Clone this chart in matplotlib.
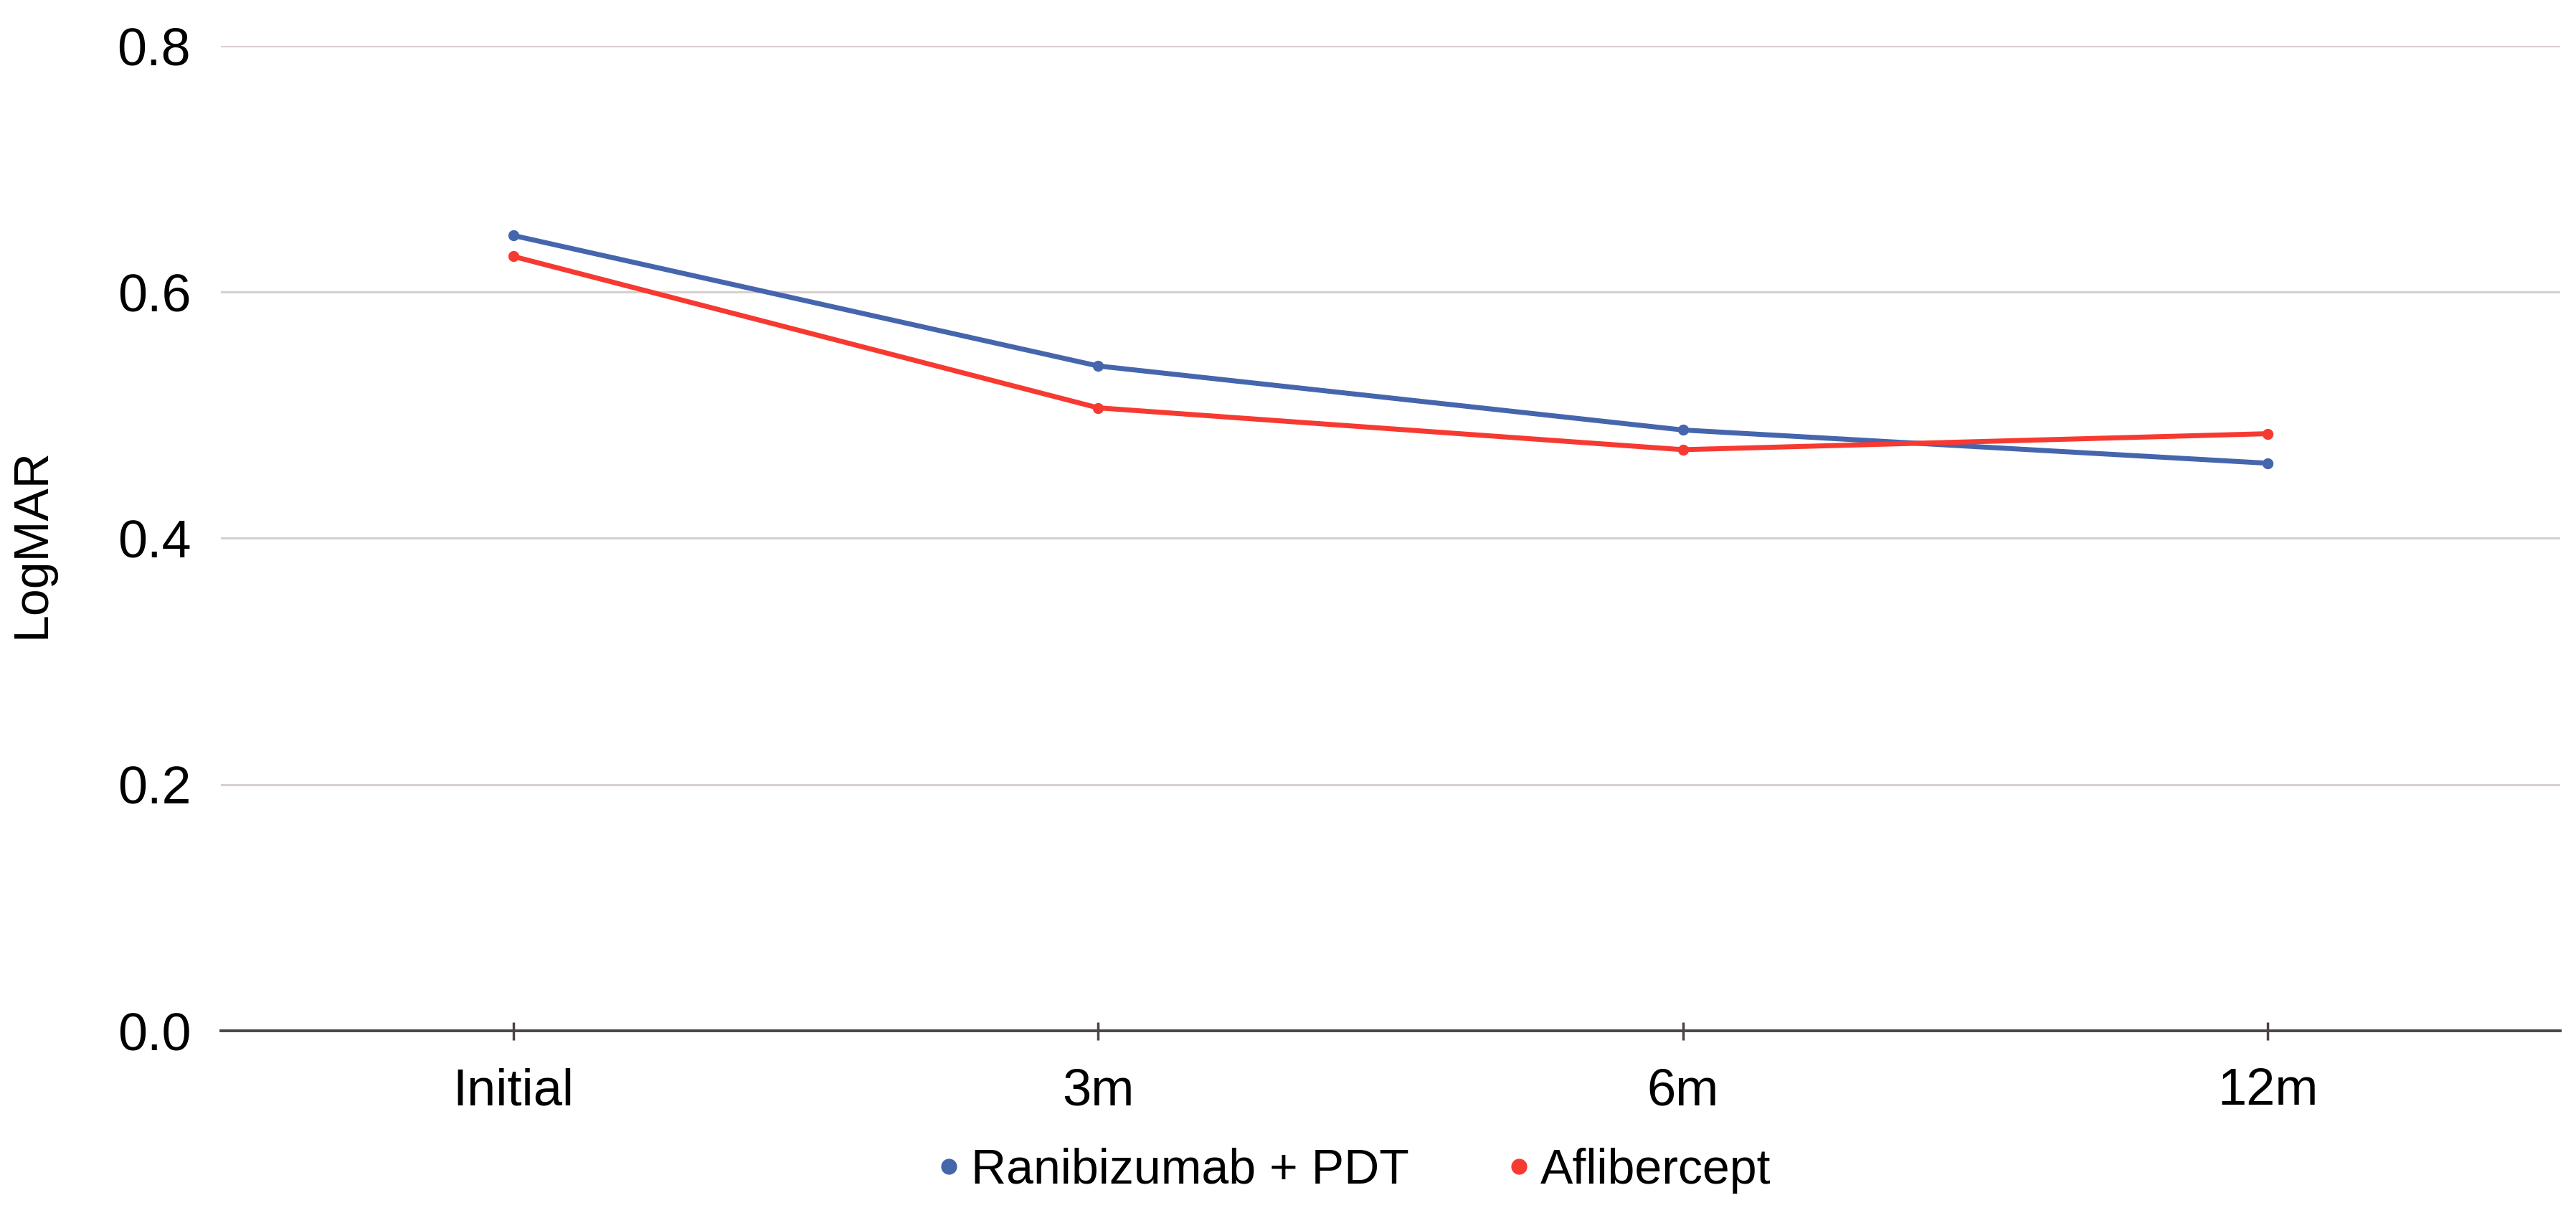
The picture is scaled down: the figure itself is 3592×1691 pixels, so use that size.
import matplotlib.pyplot as plt
from matplotlib.lines import Line2D

# data
timepoints = ['Initial', '3m', '6m', '12m']
ranibizumab_pdt = [0.646, 0.540, 0.488, 0.461]
aflibercept = [0.629, 0.506, 0.472, 0.485]
series_names = ['Ranibizumab + PDT', 'Aflibercept']

blue = '#4566ad'
red = '#f73a31'

fig = plt.figure(figsize=(35.92, 16.91), dpi=100)
ax = fig.add_axes([0.0857, 0.1502, 0.9082, 0.812])

x = range(len(timepoints))
ax.plot(x, ranibizumab_pdt, color=blue, lw=5, marker='o', ms=10, zorder=3)
ax.plot(x, aflibercept, color=red, lw=5, marker='o', ms=10, zorder=3)

ax.set_xlim(-0.5, len(timepoints) - 0.5)
ax.set_ylim(0, 0.8)
ax.set_yticks([0.0, 0.2, 0.4, 0.6, 0.8])
ax.set_yticklabels(['0.0', '0.2', '0.4', '0.6', '0.8'])
ax.set_xticks(list(x))
ax.set_xticklabels(timepoints)

ax.grid(axis='y', color='#d8cfcf', linewidth=2.2)
ax.set_axisbelow(True)
for s in ['top', 'right', 'left']:
    ax.spines[s].set_visible(False)
ax.spines['bottom'].set_color('#4d4444')
ax.spines['bottom'].set_linewidth(2.8)

ax.tick_params(axis='y', length=0, pad=30, labelsize=53)
ax.tick_params(axis='x', direction='inout', length=18, width=2.5, color='#4d4444',
               pad=28, labelsize=52)
for lbl in ax.get_xticklabels() + ax.get_yticklabels():
    lbl.set_fontfamily(['Liberation Sans', 'DejaVu Sans'])

ax.set_ylabel('LogMAR', fontsize=49, family=['Liberation Sans', 'DejaVu Sans'])
ax.yaxis.set_label_coords(-0.071, 0.495)

handles = [Line2D([], [], color=blue, marker='o', ls='', ms=15),
           Line2D([], [], color=red, marker='o', ls='', ms=15)]
fig.legend(handles, series_names, loc='center', bbox_to_anchor=(0.5242, 0.035),
           ncol=2, frameon=False, handletextpad=0.05, handlelength=0.8,
           columnspacing=1.85,
           prop={'family': ['Liberation Sans', 'DejaVu Sans'], 'size': 49})

fig.savefig('out.png', dpi=100)
